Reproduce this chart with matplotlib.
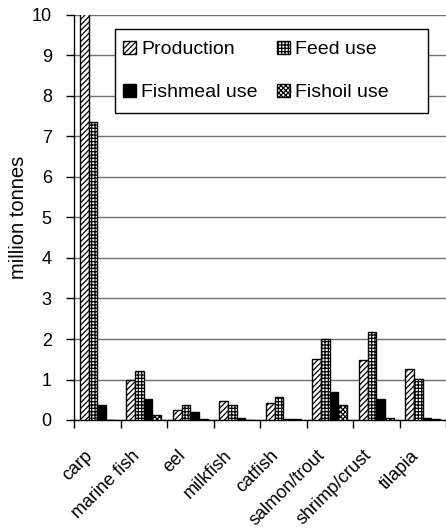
import numpy as np
import matplotlib
matplotlib.use("Agg")
from matplotlib import pyplot as plt
from matplotlib.patches import Rectangle
from matplotlib.transforms import ScaledTranslation

plt.rcParams["font.family"] = ["Liberation Sans", "DejaVu Sans"]
plt.rcParams["hatch.linewidth"] = 0.9

species = ["carp", "marine fish", "eel", "milkfish", "catfish",
           "salmon/trout", "shrimp/crust", "tilapia"]
production = [10.3, 1.00, 0.24, 0.47, 0.43, 1.51, 1.47, 1.27]
feed_use = [7.35, 1.20, 0.38, 0.38, 0.58, 1.99, 2.17, 1.02]
fishmeal_use = [0.37, 0.53, 0.20, 0.04, 0.03, 0.70, 0.53, 0.05]
fishoil_use = [0.0, 0.13, 0.02, 0.01, 0.02, 0.36, 0.05, 0.02]

series = [
    ("Production", production, "white", "//////"),
    ("Feed use", feed_use, "white", "+++++"),
    ("Fishmeal use", fishmeal_use, "black", None),
    ("Fishoil use", fishoil_use, "white", "xxxxxxx"),
]

W, H = 446, 530
fig = plt.figure(figsize=(W / 100, H / 100), dpi=100)
ax = fig.add_axes([74 / W, 110 / H, 372 / W, 405 / H])

x = np.arange(len(species)) + 0.5
w = 0.186
bars = []
for i, (name, vals, fc, hatch) in enumerate(series):
    b = ax.bar(x + (i - 1.5) * w, vals, width=w, color=fc, edgecolor="black",
               hatch=hatch, linewidth=1.0, label=name, zorder=3)
    bars.append(b)

ax.set_xlim(0, len(species))
ax.set_ylim(0, 10)
ax.set_yticks(range(0, 11))
ax.yaxis.grid(True, color="#707070", linewidth=1.0, zorder=0)
ax.set_axisbelow(True)

# ticks sit between the groups, names are placed by hand under each group
ax.set_xticks(range(0, len(species) + 1))
ax.set_xticklabels([])
lbl_tr = ax.get_xaxis_transform() + ScaledTranslation(-13 / 100, -27 / 100,
                                                      fig.dpi_scale_trans)
for xi, name in zip(x, species):
    ax.text(xi, 0, name, transform=lbl_tr, rotation=45, ha="right", va="top",
            rotation_mode="anchor", fontsize=13)
ax.tick_params(axis="x", which="major", length=6, width=1)
ax.tick_params(axis="y", length=6, width=1, pad=10, labelsize=13)

for s in ["top", "right"]:
    ax.spines[s].set_visible(False)
ax.spines["left"].set_linewidth(1.0)
ax.spines["bottom"].set_linewidth(1.0)

ax.set_ylabel("million tonnes", fontsize=14.5)
ax.yaxis.set_label_coords((28 - 74) / 372, 0.5)

# legend frame drawn as a plain box, legend itself without frame
frame = Rectangle((115 / W, 1 - 113 / H), (428 - 115) / W, (113 - 29) / H,
                  transform=fig.transFigure, facecolor="white",
                  edgecolor="black", linewidth=1.0, zorder=4)
fig.patches.append(frame)

order = [0, 2, 1, 3]
leg = fig.legend([bars[k] for k in order], [series[k][0] for k in order],
                 ncol=2, loc="upper left",
                 bbox_to_anchor=(123 / W, 1 - 41 / H),
                 fontsize=14, frameon=False, borderpad=0, borderaxespad=0,
                 handlelength=0.68, handleheight=0.68, handletextpad=0.25,
                 columnspacing=1.0, labelspacing=1.3)
leg.set_zorder(5)

fig.savefig("out.png", dpi=100)
